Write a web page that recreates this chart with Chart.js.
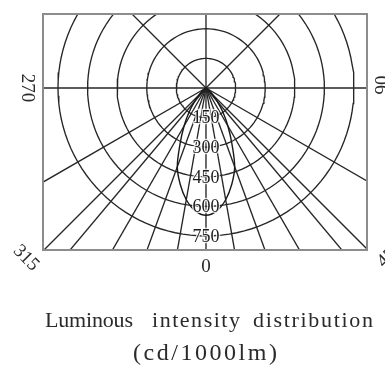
<!DOCTYPE html>
<html>
<head>
<meta charset="utf-8">
<script src="https://cdn.jsdelivr.net/npm/chart.js@4/dist/chart.umd.min.js"></script>
<style>
  html, body { margin: 0; padding: 0; background: #fff; }
  #wrap { width: 385px; height: 365px; }
</style>
</head>
<body>
<div id="wrap"><canvas id="polarChart"></canvas></div>
<script>
// intensity (cd/1000lm) vs angle from nadir, symmetric lobe
const angles = [0, 5, 10, 15, 20, 25, 30, 35, 40, 45, 50, 55, 60, 70, 80, 90];
const intensity = [645, 625, 575, 505, 425, 310, 222, 150, 90, 48, 22, 9, 3, 0, 0, 0];

// grid
const rings = [150, 300, 450, 600, 750];
const spokes = [0, 10, 20, 30, 40, 45, 60, 90, 135, 180, 225, 270, 300, 315, 320, 330, 340, 350];

// angle labels around the box
const angleLabels = ["0", "45", "90", "270", "315"];

// caption words: [text, left, right] in px
const captionWords = [["Luminous", 45, 133], ["intensity", 152, 240], ["distribution", 253, 373]];
const unitText = "(cd/1000lm)";

const FONT = "'Liberation Serif', 'Times New Roman', serif";
const GRID = "#262626";

function polar(deg, r) {
  const a = deg * Math.PI / 180;
  return { x: r * Math.sin(a), y: -r * Math.cos(a) };
}

function lobePoints() {
  const pts = [];
  for (let i = angles.length - 1; i > 0; i--) pts.push(polar(-angles[i], intensity[i]));
  for (let i = 0; i < angles.length; i++) pts.push(polar(angles[i], intensity[i]));
  return pts;
}

function ringPoints(r) {
  const pts = [];
  for (let d = 0; d <= 360; d += 3) pts.push(polar(d, r));
  return pts;
}

const datasets = [
  {
    label: "intensity",
    data: lobePoints(),
    borderColor: "#1a1a1a",
    borderWidth: 1.4,
    tension: 0.35,
    order: 0,
  },
];

rings.forEach((r) => {
  datasets.push({ label: "ring " + r, data: ringPoints(r), borderColor: GRID, borderWidth: 1.35, order: 1 });
});

spokes.forEach((d) => {
  datasets.push({ label: "spoke " + d, data: [polar(d, 0), polar(d, 1400)], borderColor: GRID, borderWidth: 1.35, order: 1 });
});

function drawSpaced(ctx, text, left, right, y) {
  ctx.letterSpacing = "0px";
  const w = ctx.measureText(text).width;
  const sp = (right - left - w) / (text.length - 1);
  ctx.letterSpacing = sp + "px";
  ctx.textAlign = "left";
  ctx.fillText(text, left, y);
  ctx.letterSpacing = "0px";
}

function rotText(ctx, text, x, y, deg) {
  ctx.save();
  ctx.translate(x, y);
  ctx.rotate(deg * Math.PI / 180);
  ctx.textAlign = "center";
  ctx.textBaseline = "middle";
  ctx.fillText(text, 0, 0);
  ctx.restore();
}

const overlay = {
  id: "overlay",
  afterDatasetsDraw(chart) {
    const { ctx, chartArea: a, scales } = chart;
    const cx = scales.x.getPixelForValue(0);
    const cy = scales.y.getPixelForValue(0);

    ctx.save();
    ctx.strokeStyle = "#8c8c8c";
    ctx.lineWidth = 2;
    ctx.strokeRect(a.left, a.top, a.right - a.left, a.bottom - a.top);

    // ring values
    ctx.font = "18px " + FONT;
    ctx.textAlign = "center";
    ctx.textBaseline = "middle";
    rings.forEach((r) => {
      const y = scales.y.getPixelForValue(-r) + 1;
      ctx.strokeStyle = "rgba(255,255,255,0.8)";
      ctx.lineWidth = 2.5;
      ctx.strokeText(String(r), cx, y);
      ctx.fillStyle = "#1e1e1e";
      ctx.fillText(String(r), cx, y);
    });

    // angle labels
    ctx.fillStyle = "#2a2a2a";
    ctx.font = "19px " + FONT;
    rotText(ctx, angleLabels[0], cx, a.bottom + 17, 0);
    rotText(ctx, angleLabels[1], a.right + 20, a.bottom + 8, -45);
    rotText(ctx, angleLabels[2], a.right + 16, cy - 3, -90);
    rotText(ctx, angleLabels[3], a.left - 16, cy, 90);
    rotText(ctx, angleLabels[4], a.left - 17, a.bottom + 8, 45);

    // caption
    ctx.fillStyle = "#2a2a2a";
    ctx.font = "22px " + FONT;
    ctx.textBaseline = "alphabetic";
    captionWords.forEach(([t, l, r]) => drawSpaced(ctx, t, l, r, 327));
    ctx.font = "24px " + FONT;
    drawSpaced(ctx, unitText, 133, 277, 360);
    ctx.restore();
  },
};

new Chart(document.getElementById("polarChart"), {
  type: "scatter",
  data: { datasets: datasets },
  options: {
    responsive: true,
    maintainAspectRatio: false,
    animation: false,
    showLine: true,
    layout: { padding: { left: 43, right: 18, top: 14, bottom: 115 } },
    elements: { point: { radius: 0, hoverRadius: 0 } },
    scales: {
      x: { type: "linear", min: -826, max: 816, display: false },
      y: { type: "linear", min: -821, max: 375, display: false },
    },
    plugins: {
      legend: { display: false },
      tooltip: { enabled: false },
    },
  },
  plugins: [overlay],
});
</script>
</body>
</html>
